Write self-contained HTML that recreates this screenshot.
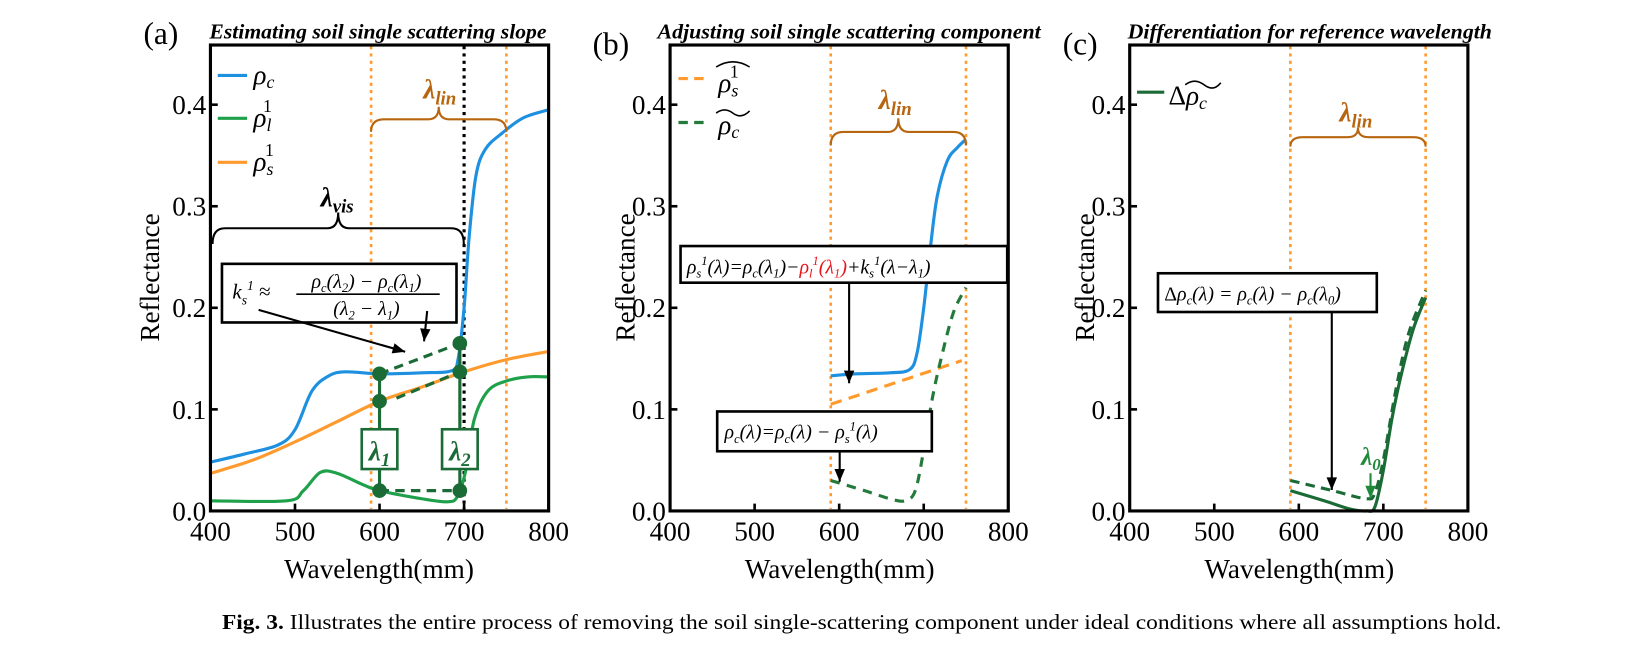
<!DOCTYPE html>
<html><head><meta charset="utf-8">
<style>
html,body{margin:0;padding:0;background:#fff;}
svg{display:block;font-family:"Liberation Serif",serif;}
.tk{font-size:26px;fill:#000;}
.ttl{font-size:20px;font-weight:bold;font-style:italic;}
.pl{font-size:30px;}
.m{font-style:italic;}
</style></head><body>
<svg id="s" width="1643" height="645" viewBox="0 0 1643 645" xmlns="http://www.w3.org/2000/svg">
<g transform="scale(1.047)">
<g id="g"></g>
<text class="pl" x="137" y="42">(a)</text>
<text class="ttl" x="200" y="37" textLength="322" lengthAdjust="spacingAndGlyphs">Estimating soil single scattering slope</text>
<text class="pl" x="566" y="52">(b)</text>
<text class="ttl" x="628" y="37" textLength="366" lengthAdjust="spacingAndGlyphs">Adjusting soil single scattering component</text>
<text class="pl" x="1015" y="52">(c)</text>
<text class="ttl" x="1077" y="37" textLength="348" lengthAdjust="spacingAndGlyphs">Differentiation for reference wavelength</text>
<text class="tk" x="362" y="552" text-anchor="middle" font-size="28">Wavelength(mm)</text>
<text class="tk" x="802" y="552" text-anchor="middle" font-size="28">Wavelength(mm)</text>
<text class="tk" x="1241" y="552" text-anchor="middle" font-size="28">Wavelength(mm)</text>
<text class="tk" transform="translate(152,265) rotate(-90)" text-anchor="middle" font-size="28">Reflectance</text>
<text class="tk" transform="translate(606,265) rotate(-90)" text-anchor="middle" font-size="28">Reflectance</text>
<text class="tk" transform="translate(1045,265) rotate(-90)" text-anchor="middle" font-size="28">Reflectance</text>
<text x="212" y="601" font-size="20" textLength="1222" lengthAdjust="spacingAndGlyphs"><tspan font-weight="bold">Fig. 3.</tspan> Illustrates the entire process of removing the soil single-scattering component under ideal conditions where all assumptions hold.</text>
</g>
</svg>
<script>
const NS="http://www.w3.org/2000/svg";
const g=document.getElementById('g');
const X0=[201,640,1079];
function X(p,w){return X0[p]+(w-400)*0.8075;}
function Y(r){return 488-r*970;}
function el(t,a,txt){const e=document.createElementNS(NS,t);for(const k in a)e.setAttribute(k,a[k]);if(txt!==undefined)e.textContent=txt;g.appendChild(e);return e;}
function smooth(p,pts){
  const P=pts.map(q=>[X(p,q[0]),Y(q[1])]);
  let d="M"+P[0][0]+","+P[0][1];
  for(let i=0;i<P.length-1;i++){
    const p0=P[i-1]||P[i],p1=P[i],p2=P[i+1],p3=P[i+2]||P[i+1];
    const c1=[p1[0]+(p2[0]-p0[0])/6,p1[1]+(p2[1]-p0[1])/6];
    const c2=[p2[0]-(p3[0]-p1[0])/6,p2[1]-(p3[1]-p1[1])/6];
    d+=` C${c1[0]},${c1[1]} ${c2[0]},${c2[1]} ${p2[0]},${p2[1]}`;
  }
  return d;
}
function curve(p,pts,col,w,dash){const a={d:smooth(p,pts),fill:"none",stroke:col,"stroke-width":w||3};if(dash)a["stroke-dasharray"]=dash;return el("path",a);}
function vline(p,w,col,dash,w2){el("line",{x1:X(p,w),x2:X(p,w),y1:44,y2:486,stroke:col,"stroke-width":w2||2.5,"stroke-dasharray":dash});}
function brace(x1,x2,y,h,col){const m=(x1+x2)/2;
 el("path",{d:`M${x1},${y+h} Q${x1},${y} ${x1+12},${y} L${m-10},${y} Q${m},${y} ${m},${y-h} Q${m},${y} ${m+10},${y} L${x2-12},${y} Q${x2},${y} ${x2},${y+h}`,fill:"none",stroke:col,"stroke-width":2});}
function arrow(x1,y1,x2,y2,col){el("line",{x1,y1,x2,y2,stroke:col||"#000","stroke-width":2});
 const a=Math.atan2(y2-y1,x2-x1),L=12,W=5;
 el("polygon",{points:`${x2},${y2} ${x2-L*Math.cos(a)+W*Math.sin(a)},${y2-L*Math.sin(a)-W*Math.cos(a)} ${x2-L*Math.cos(a)-W*Math.sin(a)},${y2-L*Math.sin(a)+W*Math.cos(a)}`,fill:col||"#000"});}
const OR="#ff9a2e",BL="#1e90e0",GR="#1fa04a",DG="#1a6b35",BR="#b8650f";
function axes(p){
  const x0=X0[p];
  for(let i=0;i<=4;i++){const x=X(p,400+100*i);el("line",{x1:x,x2:x,y1:488,y2:481,stroke:"#000","stroke-width":2.5});
    el("text",{class:"tk",x:x,y:516,"text-anchor":"middle"},String(400+100*i));}
  for(let i=0;i<=4;i++){const y=Y(i/10);el("line",{x1:x0,x2:x0+7,y1:y,y2:y,stroke:"#000","stroke-width":2.5});
    el("text",{class:"tk",x:x0-4,y:y+9,"text-anchor":"end"},(i/10).toFixed(1));}
  el("rect",{x:x0,y:43,width:323,height:445,fill:"none",stroke:"#000","stroke-width":3});
}
// ---------- Panel a
vline(0,590,OR,"3,4");vline(0,750,OR,"3,4");vline(0,700,"#000","3,4",3);
curve(0,[[400,0.048],[440,0.056],[480,0.065],[500,0.08],[520,0.118],[540,0.133],[560,0.137],[600,0.135],[650,0.136],[685,0.138],[693,0.15],[700,0.2],[706,0.27],[714,0.33],[725,0.356],[745,0.372],[770,0.387],[800,0.395]],BL);
curve(0,[[400,0.01],[490,0.01],[510,0.02],[530,0.038],[550,0.037],[580,0.026],[600,0.02],[650,0.012],[680,0.009],[692,0.014],[702,0.04],[712,0.09],[728,0.118],[750,0.128],[775,0.132],[800,0.132]],GR);
curve(0,[[400,0.037],[450,0.05],[500,0.068],[550,0.088],[600,0.108],[650,0.122],[700,0.137],[750,0.149],[800,0.157]],OR);
el("line",{x1:X(0,600),y1:Y(0.135),x2:X(0,695),y2:Y(0.165),stroke:DG,"stroke-width":3,"stroke-dasharray":"9,6"});
el("line",{x1:X(0,620),y1:Y(0.111),x2:X(0,695),y2:Y(0.137),stroke:DG,"stroke-width":3,"stroke-dasharray":"9,6"});
el("line",{x1:X(0,600),y1:Y(0.02),x2:X(0,695),y2:Y(0.02),stroke:DG,"stroke-width":3,"stroke-dasharray":"9,6"});
[600,695].forEach((w,i)=>{const top=i?0.165:0.135;el("line",{x1:X(0,w),x2:X(0,w),y1:Y(0.02),y2:Y(top),stroke:DG,"stroke-width":3});
 [top,i?0.137:0.108,0.02].forEach(r=>el("circle",{cx:X(0,w),cy:Y(r),r:7,fill:DG}));
 const bx=X(0,w);el("rect",{x:bx-17,y:410,width:34,height:38,fill:"#fff",stroke:DG,"stroke-width":2.5});
 el("text",{x:bx,y:440,"text-anchor":"middle","font-size":26,"font-weight":"bold","font-style":"italic",fill:DG}).innerHTML=`λ<tspan font-size="18" dy="5">${i?2:1}</tspan>`;});
brace(203,443,218,15,"#000");
el("text",{x:322,y:197,"text-anchor":"middle","font-size":26,"font-weight":"bold","font-style":"italic"}).innerHTML='λ<tspan font-size="18" dy="6">vis</tspan>';
brace(X(0,590),X(0,750),114,12,BR);
el("text",{x:420,y:94,"text-anchor":"middle","font-size":26,"font-weight":"bold","font-style":"italic",fill:BR}).innerHTML='λ<tspan font-size="18" dy="6">lin</tspan>';
el("rect",{x:212,y:252,width:224,height:56,fill:"#fff",stroke:"#000","stroke-width":2.5});
el("text",{x:222,y:285,"font-size":20,class:"m"}).innerHTML='k<tspan font-size="13" dy="6">s</tspan><tspan font-size="13" dy="-14">1</tspan><tspan dy="8" font-style="normal"> ≈</tspan>';
el("text",{x:350,y:275,"text-anchor":"middle","font-size":19,class:"m"}).innerHTML='ρ<tspan font-size="12" dy="4">c</tspan><tspan dy="-4">(λ</tspan><tspan font-size="12" dy="4">2</tspan><tspan dy="-4">) − ρ</tspan><tspan font-size="12" dy="4">c</tspan><tspan dy="-4">(λ</tspan><tspan font-size="12" dy="4">1</tspan><tspan dy="-4">)</tspan>';
el("line",{x1:283,x2:420,y1:281,y2:281,stroke:"#000","stroke-width":1.5});
el("text",{x:350,y:301,"text-anchor":"middle","font-size":19,class:"m"}).innerHTML='(λ<tspan font-size="12" dy="4">2</tspan><tspan dy="-4"> − λ</tspan><tspan font-size="12" dy="4">1</tspan><tspan dy="-4">)</tspan>';
arrow(247,296,387,336);arrow(408,297,405,326);
[[72,BL,"c",""],[113,GR,"l","1"],[155,OR,"s","1"]].forEach(([y,c,s,sp])=>{el("line",{x1:208,x2:236,y1:y,y2:y,stroke:c,"stroke-width":3});
 el("text",{x:242,y:y+8,"font-size":26,class:"m"}).innerHTML=`ρ<tspan font-size="17" dy="4">${s}</tspan>`+(sp?`<tspan font-size="17" dx="-8" dy="-18" font-style="normal">${sp}</tspan>`:"");});
axes(0);
// ---------- Panel b
vline(1,590,OR,"3,4");vline(1,750,OR,"3,4");
curve(1,[[590,0.133],[620,0.135],[660,0.136],[683,0.139],[692,0.155],[700,0.2],[708,0.26],[716,0.31],[728,0.345],[740,0.358],[750,0.366]],BL);
el("line",{x1:X(1,590),y1:Y(0.105),x2:X(1,745),y2:Y(0.148),stroke:OR,"stroke-width":3,"stroke-dasharray":"11,7"});
curve(1,[[590,0.03],[630,0.02],[660,0.012],[678,0.01],[690,0.02],[700,0.06],[710,0.11],[720,0.148],[735,0.195],[750,0.22]],"#237a3a",3,"9,7");
brace(X(1,590),X(1,750),126,13,BR);
el("text",{x:855,y:104,"text-anchor":"middle","font-size":26,"font-weight":"bold","font-style":"italic",fill:BR}).innerHTML='λ<tspan font-size="18" dy="6">lin</tspan>';
el("line",{x1:648,x2:676,y1:75,y2:75,stroke:OR,"stroke-width":3,"stroke-dasharray":"9,6"});
el("line",{x1:648,x2:676,y1:117,y2:117,stroke:"#237a3a","stroke-width":3,"stroke-dasharray":"9,6"});
el("text",{x:686,y:88,"font-size":26,class:"m"}).innerHTML='ρ<tspan font-size="17" dy="4">s</tspan><tspan font-size="17" dx="-8" dy="-18" font-style="normal">1</tspan>';
el("path",{d:"M684,64 Q700,54 716,64",fill:"none",stroke:"#000","stroke-width":1.5});
el("text",{x:686,y:128,"font-size":26,class:"m"}).innerHTML='ρ<tspan font-size="17" dy="4">c</tspan>';
el("path",{d:"M684,108 Q692,102 700,108 T716,106",fill:"none",stroke:"#000","stroke-width":1.5});
el("rect",{x:650,y:235,width:312,height:35,fill:"#fff",stroke:"#000","stroke-width":2.5});
el("text",{x:656,y:261,"font-size":19,class:"m"}).innerHTML='ρ<tspan font-size="12" dy="4">s</tspan><tspan font-size="12" dy="-12">1</tspan><tspan dy="8">(λ)=ρ</tspan><tspan font-size="12" dy="4">c</tspan><tspan dy="-4">(λ</tspan><tspan font-size="12" dy="4">1</tspan><tspan dy="-4">)−</tspan><tspan fill="#e8141a">ρ<tspan font-size="12" dy="4">l</tspan><tspan font-size="12" dy="-12">1</tspan><tspan dy="8">(λ</tspan><tspan font-size="12" dy="4">1</tspan><tspan dy="-4">)</tspan></tspan>+k<tspan font-size="12" dy="4">s</tspan><tspan font-size="12" dy="-12">1</tspan><tspan dy="8">(λ−λ</tspan><tspan font-size="12" dy="4">1</tspan><tspan dy="-4">)</tspan>';
el("rect",{x:685,y:393,width:205,height:38,fill:"#fff",stroke:"#000","stroke-width":2.5});
el("text",{x:692,y:419,"font-size":19,class:"m"}).innerHTML='ρ<tspan font-size="12" dy="4">c</tspan><tspan dy="-4">(λ)=ρ</tspan><tspan font-size="12" dy="4">c</tspan><tspan dy="-4">(λ) − ρ</tspan><tspan font-size="12" dy="4">s</tspan><tspan font-size="12" dy="-12">1</tspan><tspan dy="8">(λ)</tspan>';
arrow(811,270,811,366);arrow(802,431,802,460);
axes(1);
// ---------- Panel c
vline(2,590,OR,"3,4");vline(2,750,OR,"3,4");
curve(2,[[590,0.02],[630,0.01],[660,0.002],[680,0.0],[690,0.004],[700,0.04],[710,0.09],[720,0.13],[735,0.178],[750,0.21]],DG,3);
curve(2,[[590,0.03],[640,0.02],[680,0.012],[690,0.018],[700,0.05],[715,0.12],[730,0.175],[750,0.217]],DG,3,"9,6");
brace(X(2,590),X(2,750),131,9,BR);
el("text",{x:1295,y:116,"text-anchor":"middle","font-size":26,"font-weight":"bold","font-style":"italic",fill:BR}).innerHTML='λ<tspan font-size="18" dy="6">lin</tspan>';
el("line",{x1:1086,x2:1112,y1:88,y2:88,stroke:DG,"stroke-width":3});
el("text",{x:1116,y:100,"font-size":26,class:"m"}).innerHTML='<tspan font-style="normal">Δ</tspan>ρ<tspan font-size="17" dy="4">c</tspan>';
el("path",{d:"M1132,81 Q1141,74 1150,81 T1166,79",fill:"none",stroke:"#000","stroke-width":1.5});
el("rect",{x:1106,y:261,width:209,height:37,fill:"#fff",stroke:"#000","stroke-width":2.5});
el("text",{x:1112,y:287,"font-size":19,class:"m"}).innerHTML='<tspan font-style="normal">Δ</tspan>ρ<tspan font-size="12" dy="4">c</tspan><tspan dy="-4">(λ) = ρ</tspan><tspan font-size="12" dy="4">c</tspan><tspan dy="-4">(λ) − ρ</tspan><tspan font-size="12" dy="4">c</tspan><tspan dy="-4">(λ</tspan><tspan font-size="12" dy="4">0</tspan><tspan dy="-4">)</tspan>';
arrow(1272,298,1272,468);
el("text",{x:1300,y:444,"font-size":24,"font-weight":"bold","font-style":"italic",fill:"#1f8a3a"}).innerHTML='λ<tspan font-size="16" dy="5">0</tspan>';
arrow(1309,452,1309,476,"#1f8a3a");
axes(2);
</script>
</body></html>
